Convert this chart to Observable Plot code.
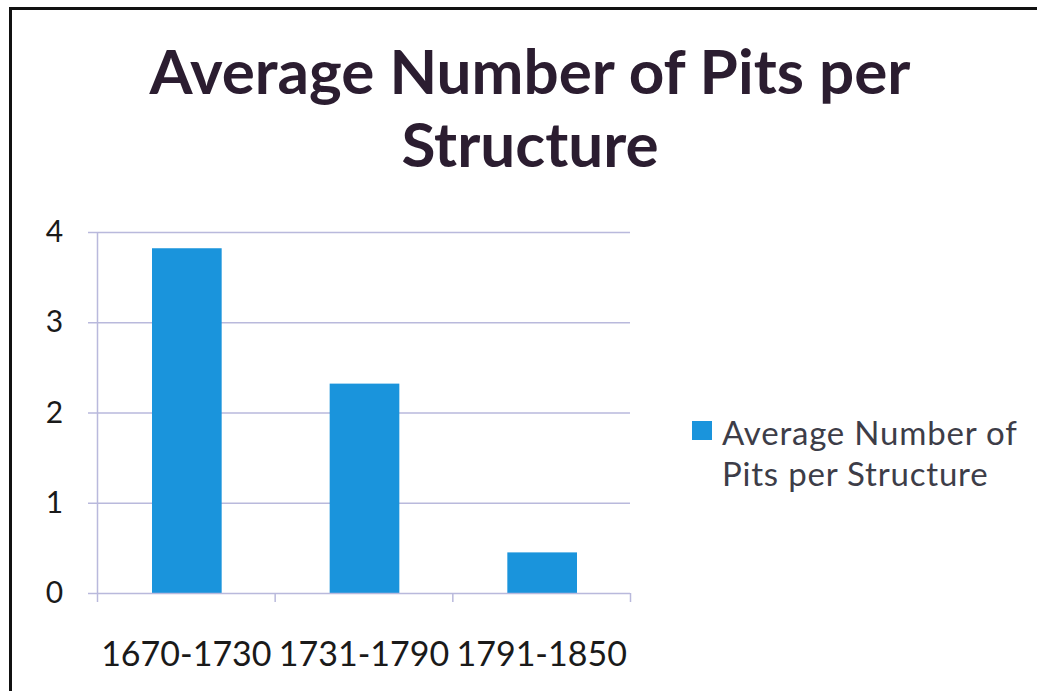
<!DOCTYPE html>
<html>
<head>
<meta charset="utf-8">
<script src="https://cdn.jsdelivr.net/npm/d3@7"></script>
<script src="https://cdn.jsdelivr.net/npm/@observablehq/plot@0.6"></script>
<style>
  html, body { margin: 0; padding: 0; background: #fff; }
  #page { position: relative; width: 1037px; height: 691px; overflow: hidden; background: #fff; font-family: Lato, "Open Sans", sans-serif; }
  #frame { position: absolute; left: 9px; top: 7px; width: 1040px; height: 700px; border-left: 3px solid #111; border-top: 3px solid #111; }
  #title { position: absolute; left: 0; width: 1060px; top: 34px; text-align: center; font-weight: 700; font-size: 62px; line-height: 73px; color: #2b1d30; }
  #chart { position: absolute; left: 0; top: 200px; }
  #legend { position: absolute; left: 692px; top: 412px; font-size: 33px; line-height: 41px; letter-spacing: 0.8px; color: #3d3d48; }
  #legend .sw { position: absolute; left: 0; top: 9px; width: 20px; height: 19px; background: #1a94dc; }
  #legend .tx { position: absolute; left: 30px; top: 0; white-space: nowrap; }
</style>
</head>
<body>
<div id="page">
  <div id="frame"></div>
  <div id="title">Average Number of Pits per<br>Structure</div>
  <div id="chart"></div>
  <div id="legend"><div class="sw"></div><div class="tx">Average Number of<br>Pits per Structure</div></div>
</div>
<script>
const categories = ["1670-1730", "1731-1790", "1791-1850"];
const values = [3.82, 2.32, 0.45];
const yTicks = [0, 1, 2, 3, 4];
const seriesName = "Average Number of Pits per Structure";

const data = categories.map((c, i) => ({i, category: c, value: values[i]}));
const gridColor = "#b9b9dc";
const boundaries = d3.range(categories.length + 1);
const centers = categories.map((c, i) => i + 0.5);

const chart = Plot.plot({
  width: 660,
  height: 480,
  marginLeft: 97,
  marginRight: 30,
  marginTop: 32,
  marginBottom: 87,
  style: {fontFamily: "Lato, 'Open Sans', sans-serif", color: "#1a1a1a", background: "transparent", overflow: "visible"},
  x: {type: "linear", domain: [0, categories.length], axis: null, label: null},
  y: {domain: [0, 4], axis: null, label: null},
  marks: [
    Plot.gridY(yTicks.filter(t => t > 0), {stroke: gridColor, strokeOpacity: 1, strokeWidth: 1.5}),
    Plot.axisY(yTicks, {label: null, tickSize: 9, tickPadding: 34, tickFormat: d3.format("d"), stroke: gridColor, fontSize: 30, textAnchor: "middle", fill: "#1a1a1a", strokeWidth: 1.5}),
    Plot.rectY(data, {x1: "i", x2: d => d.i + 1, y: "value", fill: "#1a94dc", insetLeft: 55, insetRight: 53}),
    Plot.ruleX([0], {y1: 0, y2: 4, stroke: gridColor, strokeWidth: 1.5}),
    Plot.ruleY([0], {stroke: gridColor, strokeWidth: 1.5}),
    Plot.axisX(boundaries, {label: null, tickSize: 9, tickFormat: () => "", stroke: gridColor, strokeWidth: 1.5}),
    Plot.axisX(centers, {label: null, tickSize: 0, tickPadding: 48, tickFormat: d => categories[Math.floor(d)], fontSize: 34, fill: "#1a1a1a"})
  ]
});
chart.setAttribute("aria-label", seriesName);
document.getElementById("chart").appendChild(chart);
</script>
</body>
</html>
